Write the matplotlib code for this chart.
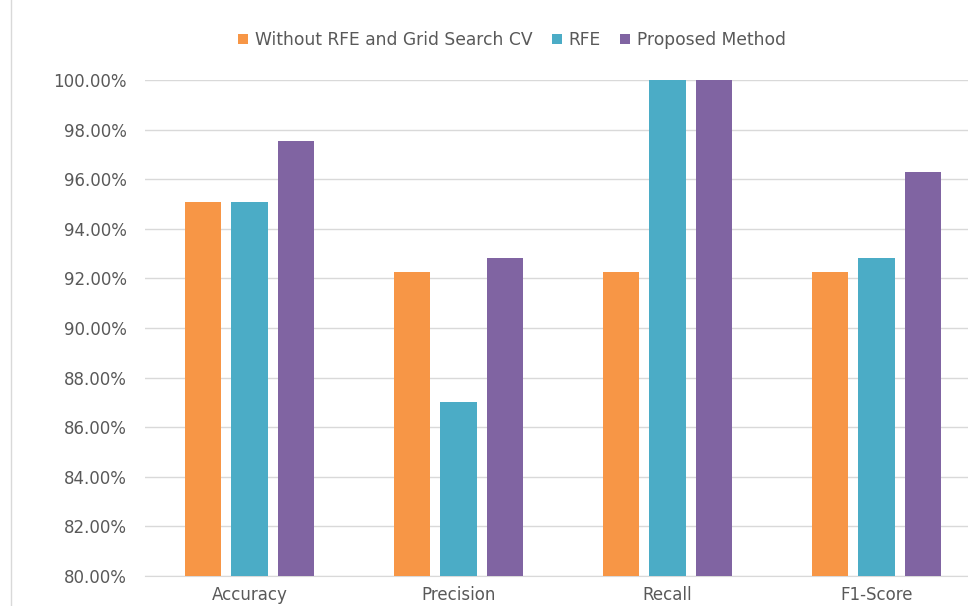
import matplotlib
matplotlib.use("Agg")
import matplotlib.pyplot as plt
import numpy as np
from matplotlib.ticker import FuncFormatter, MultipleLocator
from matplotlib.lines import Line2D

categories = ["Accuracy", "Precision", "Recall", "F1-Score"]
series_names = ["Without RFE and Grid Search CV", "RFE", "Proposed Method"]
without_rfe = [95.08, 92.26, 92.26, 92.26]
rfe = [95.08, 87.02, 100.0, 92.82]
proposed = [97.54, 92.82, 100.0, 96.29]
colors = ["#F79646", "#4BACC6", "#8064A2"]

W, H = 968, 606
fig = plt.figure(figsize=(W / 100, H / 100), dpi=100)
plt.rcParams['font.family'] = ['DejaVu Sans']
txt = "#595959"

left, right = 145, 981
top, bottom = 80, 576
ax = fig.add_axes([left / W, 1 - bottom / H, (right - left) / W, (bottom - top) / H])

x = np.arange(len(categories))
bw = 0.173
off = 0.222
for i, (vals, name) in enumerate(zip([without_rfe, rfe, proposed], series_names)):
    ax.bar(x + (i - 1) * off, vals, width=bw, color=colors[i], label=name, zorder=3)

ax.set_xlim(-0.5, len(categories) - 0.5)
ax.set_ylim(80, 100)
ax.yaxis.set_major_locator(MultipleLocator(2))
ax.yaxis.set_major_formatter(FuncFormatter(lambda v, p: f"{v:.2f}%"))
ax.set_xticks(x)
ax.set_xticklabels(categories)
ax.grid(axis="y", color="#D9D9D9", linewidth=1, zorder=0)
for s in ["top", "right", "left"]:
    ax.spines[s].set_visible(False)
ax.spines["bottom"].set_color("#D9D9D9")
ax.tick_params(axis="both", length=0, colors=txt, labelsize=12)
ax.tick_params(axis="y", pad=13)
ax.tick_params(axis="x", pad=7)

leg = fig.legend(loc="center", bbox_to_anchor=(512 / W, 1 - 40 / H), ncol=3, frameon=False,
                 fontsize=12.3, handlelength=0.6, handleheight=0.6, handletextpad=0.4,
                 columnspacing=1.1, labelcolor=txt)

fig.add_artist(Line2D([11 / W, 11 / W], [0, 1], transform=fig.transFigure, color="#D9D9D9", linewidth=1))

fig.savefig("out.png", dpi=100)
